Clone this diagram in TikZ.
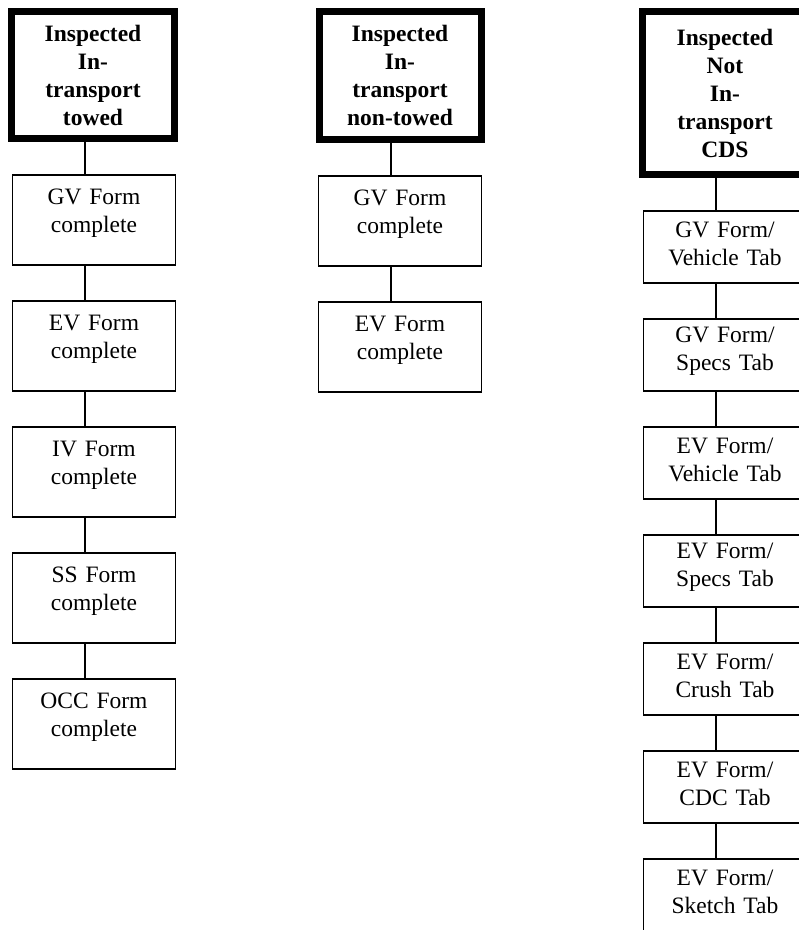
\documentclass[tikz,border=0pt]{standalone}
\usepackage{fontspec}
\setmainfont{Liberation Serif}
\usepackage{tikz}
\tikzstyle{start} = [rectangle, line width=7pt, draw=black, minimum width=163pt, text width=150pt, align=center, font=\fontsize{23.5}{28}\selectfont\bfseries]
\tikzstyle{form} = [rectangle, line width=1.3pt, draw=black, minimum width=163pt, minimum height=90pt, text width=150pt, align=center, text height=1.5pt]
\tikzstyle{tab} = [rectangle, line width=1.3pt, draw=black, minimum width=163pt, minimum height=72pt, text width=150pt, align=center, text height=8.5pt]
\tikzstyle{link} = [line width=1.3pt]

\begin{document}
\begin{tikzpicture}[x=1pt, y=-1pt, node distance=126pt, font=\fontsize{23.5}{28}\selectfont]
\useasboundingbox (0,0) rectangle (799,930);
\clip (0,0) rectangle (799,930);

% towed
\node (tow) [start, minimum height=127pt] at (93,75) {Inspected\\In-\\transport\\towed};
\node (tgv) [form, below of=tow, yshift=-19pt, xshift=1pt] {GV Form\\complete};
\draw [link] ([xshift=-8pt]tow.south) -- ([xshift=-9pt]tgv.north);
\node (tev) [form, below of=tgv] {EV Form\\complete};
\draw [link] ([xshift=-9pt]tgv.south) -- ([xshift=-9pt]tev.north);
\node (tiv) [form, below of=tev] {IV Form\\complete};
\draw [link] ([xshift=-9pt]tev.south) -- ([xshift=-9pt]tiv.north);
\node (tss) [form, below of=tiv] {SS Form\\complete};
\draw [link] ([xshift=-9pt]tiv.south) -- ([xshift=-9pt]tss.north);
\node (tocc) [form, below of=tss] {OCC Form\\complete};
\draw [link] ([xshift=-9pt]tss.south) -- ([xshift=-9pt]tocc.north);

% non-towed
\node (ntow) [start, minimum height=128pt, minimum width=162pt] at (400,75.5) {Inspected\\In-\\transport\\non-towed};
\node (ngv) [form, below of=ntow, yshift=-19.5pt] {GV Form\\complete};
\draw [link] ([xshift=-9pt]ntow.south) -- ([xshift=-9pt]ngv.north);
\node (nev) [form, below of=ngv] {EV Form\\complete};
\draw [link] ([xshift=-9pt]ngv.south) -- ([xshift=-9pt]nev.north);

% not in-transport CDS
\begin{scope}[node distance=108pt]
\node (cds) [start, minimum height=163pt, minimum width=166pt] at (725,93) {Inspected\\Not\\In-\\transport\\CDS};
\node (gvveh) [tab, below of=cds, yshift=-46pt] {GV Form/\\Vehicle Tab};
\draw [link] ([xshift=-9pt]cds.south) -- ([xshift=-9pt]gvveh.north);
\node (gvspec) [tab, below of=gvveh] {GV Form/\\Specs Tab};
\draw [link] ([xshift=-9pt]gvveh.south) -- ([xshift=-9pt]gvspec.north);
\node (evveh) [tab, below of=gvspec] {EV Form/\\Vehicle Tab};
\draw [link] ([xshift=-9pt]gvspec.south) -- ([xshift=-9pt]evveh.north);
\node (evspec) [tab, below of=evveh] {EV Form/\\Specs Tab};
\draw [link] ([xshift=-9pt]evveh.south) -- ([xshift=-9pt]evspec.north);
\node (evcrush) [tab, below of=evspec] {EV Form/\\Crush Tab};
\draw [link] ([xshift=-9pt]evspec.south) -- ([xshift=-9pt]evcrush.north);
\node (evcdc) [tab, below of=evcrush] {EV Form/\\CDC Tab};
\draw [link] ([xshift=-9pt]evcrush.south) -- ([xshift=-9pt]evcdc.north);
\node (evsketch) [tab, below of=evcdc] {EV Form/\\Sketch Tab};
\draw [link] ([xshift=-9pt]evcdc.south) -- ([xshift=-9pt]evsketch.north);
\end{scope}

\end{tikzpicture}
\end{document}
